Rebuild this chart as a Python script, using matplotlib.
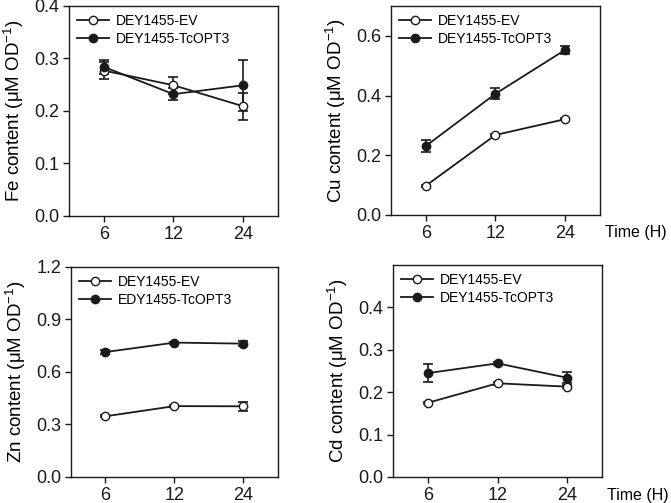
import matplotlib
matplotlib.use('Agg')
import matplotlib.pyplot as plt

plt.rcParams['font.family'] = ['Liberation Sans', 'DejaVu Sans']
plt.rcParams['mathtext.fontset'] = 'custom'
plt.rcParams['mathtext.rm'] = 'Liberation Sans'
plt.rcParams['mathtext.it'] = 'Liberation Sans'

times = ['6', '12', '24']

# Fe
fe_ev = [0.277, 0.249, 0.209]
fe_ev_err = [0.016, 0.016, 0.026]
fe_tc = [0.284, 0.232, 0.249]
fe_tc_err = [0.014, 0.012, 0.049]

# Cu
cu_ev = [0.098, 0.268, 0.321]
cu_ev_err = [0.004, 0.004, 0.004]
cu_tc = [0.231, 0.406, 0.553]
cu_tc_err = [0.02, 0.018, 0.014]

# Zn
zn_ev = [0.347, 0.405, 0.404]
zn_ev_err = [0.006, 0.006, 0.026]
zn_tc = [0.714, 0.768, 0.762]
zn_tc_err = [0.014, 0.006, 0.014]

# Cd
cd_ev = [0.175, 0.221, 0.213]
cd_ev_err = [0.003, 0.003, 0.004]
cd_tc = [0.245, 0.268, 0.234]
cd_tc_err = [0.022, 0.004, 0.013]

panels = [
    # left, bottom, width, height
    dict(pos=[0.1028, 0.5706, 0.3115, 0.4175], ev=fe_ev, eve=fe_ev_err, tc=fe_tc, tce=fe_tc_err,
         ylim=0.4, yt=[0, 0.1, 0.2, 0.3, 0.4], lab='Fe', leg2='DEY1455-TcOPT3', time=False),
    dict(pos=[0.5827, 0.5726, 0.3115, 0.4155], ev=cu_ev, eve=cu_ev_err, tc=cu_tc, tce=cu_tc_err,
         ylim=0.7, yt=[0, 0.2, 0.4, 0.6], lab='Cu', leg2='DEY1455-TcOPT3', time=True),
    dict(pos=[0.1058, 0.0517, 0.3085, 0.4175], ev=zn_ev, eve=zn_ev_err, tc=zn_tc, tce=zn_tc_err,
         ylim=1.2, yt=[0, 0.3, 0.6, 0.9, 1.2], lab='Zn', leg2='EDY1455-TcOPT3', time=False),
    dict(pos=[0.5857, 0.0517, 0.3115, 0.4215], ev=cd_ev, eve=cd_ev_err, tc=cd_tc, tce=cd_tc_err,
         ylim=0.5, yt=[0, 0.1, 0.2, 0.3, 0.4], lab='Cd', leg2='DEY1455-TcOPT3', time=True),
]

fig = plt.figure(figsize=(6.71, 5.03), dpi=100)
k = '#1a1a1a'
x = range(len(times))
for p in panels:
    ax = fig.add_axes(p['pos'])
    # error bars first, lines + markers on top
    ax.errorbar(x, p['ev'], yerr=p['eve'], fmt='none', ecolor=k, capsize=3.5,
                elinewidth=1.2, capthick=1.2)
    ax.errorbar(x, p['tc'], yerr=p['tce'], fmt='none', ecolor=k, capsize=3.5,
                elinewidth=1.2, capthick=1.2)
    ax.plot(x, p['ev'], color=k, lw=1.3, marker='o', ms=6, mfc='white', mec=k, mew=1.0,
            label='DEY1455-EV')
    ax.plot(x, p['tc'], color=k, lw=1.3, marker='o', ms=6, mfc=k, mec=k, mew=1.0,
            label=p['leg2'])
    ax.set_xlim(-0.5, 2.5)
    ax.set_ylim(0, p['ylim'])
    ax.set_xticks(list(x))
    ax.set_xticklabels(times)
    ax.set_yticks(p['yt'])
    ax.set_yticklabels(['%.1f' % v for v in p['yt']])
    ax.tick_params(direction='out', length=4, width=1, labelsize=13, pad=3, colors=k)
    ax.tick_params(axis='x', pad=3)
    for s in ax.spines.values():
        s.set_linewidth(1.0)
        s.set_color(k)
    ax.set_ylabel(p['lab'] + ' content (μM OD$^{-1}$)', fontsize=13.5, labelpad=6)
    ax.legend(loc='upper left', frameon=False, fontsize=10, handlelength=2.3,
              handletextpad=0.5, borderaxespad=0.15, labelspacing=0.3)
    if p['time']:
        ax.text(1.025, -0.085, 'Time (H)', transform=ax.transAxes, fontsize=11.5,
                ha='left', va='center')

fig.savefig('out.png', dpi=100)
